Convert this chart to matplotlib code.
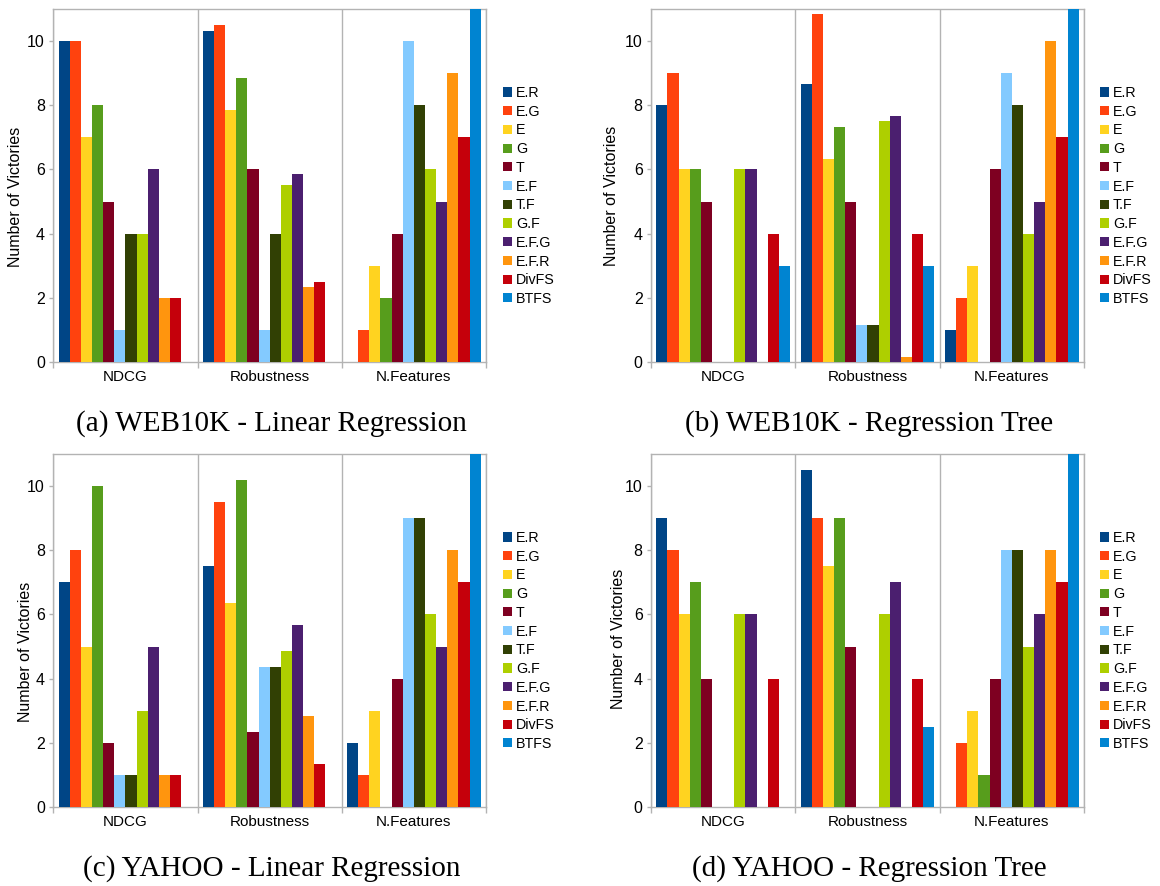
import matplotlib
matplotlib.use("Agg")
import matplotlib.pyplot as plt
from matplotlib.patches import Patch
import numpy as np

methods = ["E.R", "E.G", "E", "G", "T", "E.F", "T.F", "G.F", "E.F.G", "E.F.R", "DivFS", "BTFS"]
colors = ["#004586", "#ff420e", "#ffd320", "#579d1c", "#7e0021", "#83caff",
          "#314004", "#aecf00", "#4b1f6f", "#ff950e", "#c5000b", "#0084d1"]
groups = ["NDCG", "Robustness", "N.Features"]

# values[group][method]
web10k_lr = [
    [10, 10, 7, 8, 5, 1, 4, 4, 6, 2, 2, 0],
    [10.33, 10.5, 7.85, 8.85, 6, 1, 4, 5.5, 5.85, 2.33, 2.5, 0],
    [0, 1, 3, 2, 4, 10, 8, 6, 5, 9, 7, 11],
]
web10k_rt = [
    [8, 9, 6, 6, 5, 0, 0, 6, 6, 0, 4, 3],
    [8.67, 10.83, 6.33, 7.33, 5, 1.16, 1.16, 7.5, 7.67, 0.16, 4, 3],
    [1, 2, 3, 0, 6, 9, 8, 4, 5, 10, 7, 11],
]
yahoo_lr = [
    [7, 8, 5, 10, 2, 1, 1, 3, 5, 1, 1, 0],
    [7.5, 9.5, 6.35, 10.18, 2.33, 4.35, 4.35, 4.85, 5.67, 2.83, 1.33, 0],
    [2, 1, 3, 0, 4, 9, 9, 6, 5, 8, 7, 11],
]
yahoo_rt = [
    [9, 8, 6, 7, 4, 0, 0, 6, 6, 0, 4, 0],
    [10.5, 9, 7.5, 9, 5, 0, 0, 6, 7, 0, 4, 2.5],
    [0, 2, 3, 1, 4, 8, 8, 5, 6, 8, 7, 11],
]

captions = ["(a) WEB10K - Linear Regression", "(b) WEB10K - Regression Tree",
            "(c) YAHOO - Linear Regression", "(d) YAHOO - Regression Tree"]
datasets = [web10k_lr, web10k_rt, yahoo_lr, yahoo_rt]

W, H = 1160, 886
fig = plt.figure(figsize=(W / 100, H / 100), dpi=100)

# axes boxes in pixels: left, top, right, bottom
boxes = [(53.3, 9, 486, 362), (651, 9, 1084, 362),
         (53.3, 454, 486, 807), (651, 454, 1084, 807)]
ylabel_x = [23, 619, 33.5, 626]
ylabel_y = [197, 196, 652, 639]
legend_pos = [(503, 196), (1100, 196), (503, 641), (1100, 641)]

grey = "#b3b3b3"
sans = "Liberation Sans"
serif = "Liberation Serif"

nb = len(methods)
bw = 0.927 / nb
x = np.arange(len(groups))

for k, data in enumerate(datasets):
    l, t, r, b = boxes[k]
    ax = fig.add_axes([l / W, 1 - b / H, (r - l) / W, (b - t) / H])
    arr = np.array(data)
    for i in range(nb):
        ax.bar(x + (i - (nb - 1) / 2) * bw, arr[:, i], width=bw, color=colors[i],
               linewidth=0, label=methods[i], zorder=3)
    ax.set_xlim(-0.5, 2.5)
    ax.set_ylim(0, 11)
    ax.set_yticks([0, 2, 4, 6, 8, 10])
    ax.set_xticks([-0.5, 0.5, 1.5, 2.5])
    ax.set_xticklabels([])
    ax.set_xticks(x, minor=True)
    ax.set_xticklabels(groups, minor=True, fontsize=11, family=sans)
    ax.tick_params(axis="x", which="minor", length=0, pad=6)
    ax.tick_params(axis="x", which="major", length=4, color=grey, width=1)
    ax.tick_params(axis="y", length=3, color=grey, width=1, labelsize=11.5, pad=3)
    for lab in ax.get_yticklabels():
        lab.set_family(sans)
    ax.xaxis.grid(True, which="major", color=grey, linewidth=1, zorder=0)
    for s in ax.spines.values():
        s.set_color(grey)
        s.set_linewidth(1)
    ax.set_ylabel("Number of Victories", fontsize=11.5, family=sans)
    ax.yaxis.set_label_coords((ylabel_x[k] - l) / (r - l), (b - ylabel_y[k]) / (b - t))

    handles = [Patch(facecolor=c, edgecolor="none") for c in colors]
    lx, ly = legend_pos[k]
    fig.legend(handles, methods, loc="center left",
               bbox_to_anchor=(lx / W, 1 - ly / H), bbox_transform=fig.transFigure,
               frameon=False, borderpad=0, borderaxespad=0,
               handlelength=0.6, handleheight=0.6, handletextpad=0.3,
               labelspacing=0.33, prop={"family": sans, "size": 10.3})

    fig.text((l + r) / 2 / W + 2 / W, 1 - (b + 62) / H, captions[k],
             ha="center", va="center", fontsize=21, family=serif)

fig.savefig("out.png", dpi=100)
